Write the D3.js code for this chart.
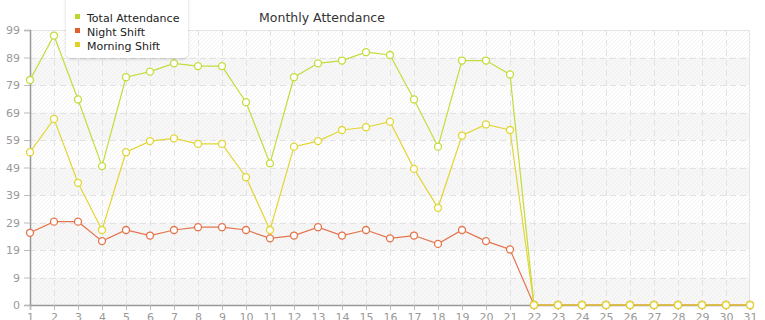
<!DOCTYPE html>
<html>
<head>
<meta charset="utf-8">
<script src="https://cdn.jsdelivr.net/npm/d3@7"></script>
<style>
  body { margin: 0; background: #fff; }
  svg { font-family: "DejaVu Sans", Verdana, sans-serif; }
</style>
</head>
<body>
<svg width="765" height="320"></svg>
<script>
// chart data
var days = d3.range(1, 32);
var totalAttendance = [81, 97, 74, 50, 82, 84, 87, 86, 86, 73, 51, 82, 87, 88, 91, 90, 74, 57, 88, 88, 83, 0, 0, 0, 0, 0, 0, 0, 0, 0, 0];
var nightShift      = [26, 30, 30, 23, 27, 25, 27, 28, 28, 27, 24, 25, 28, 25, 27, 24, 25, 22, 27, 23, 20, 0, 0, 0, 0, 0, 0, 0, 0, 0, 0];
var morningShift    = [55, 67, 44, 27, 55, 59, 60, 58, 58, 46, 27, 57, 59, 63, 64, 66, 49, 35, 61, 65, 63, 0, 0, 0, 0, 0, 0, 0, 0, 0, 0];
var seriesNames = ["Total Attendance", "Night Shift", "Morning Shift"];
var yMax = 99;

var colors = {
  "Total Attendance": "#c4dc3c",
  "Night Shift": "#e4744c",
  "Morning Shift": "#e2d634"
};
var legendColors = {
  "Total Attendance": "#b8d82c",
  "Night Shift": "#e0602c",
  "Morning Shift": "#e0d02c"
};

var svg = d3.select("svg"),
    margin = {top: 30, right: 15, bottom: 15, left: 30},
    width = +svg.attr("width") - margin.left - margin.right,
    height = +svg.attr("height") - margin.top - margin.bottom;

var x = d3.scaleLinear().domain([1, 31]).range([0, width]);
var y = d3.scaleLinear().domain([0, yMax]).range([height, 0]);

var yTicks = d3.range(0, 11).map(function(i) { return i * yMax / 10; });

// hatch pattern
var defs = svg.append("defs");
var pat = defs.append("pattern")
    .attr("id", "hatch")
    .attr("patternUnits", "userSpaceOnUse")
    .attr("width", 4).attr("height", 4);
pat.append("path")
    .attr("d", "M-1,1 l2,-2 M0,4 l4,-4 M3,5 l2,-2")
    .attr("stroke", "#efefef")
    .attr("stroke-width", 0.8);

var g = svg.append("g").attr("transform", "translate(" + margin.left + "," + margin.top + ")");

g.append("rect")
    .attr("width", width).attr("height", height)
    .attr("fill", "#fff");

// alternating bands
g.selectAll(".band")
  .data(yTicks.slice(0, 10).filter(function(d, i) { return i % 2 === 0; }))
  .enter().append("rect")
    .attr("class", "band")
    .attr("x", 0)
    .attr("width", width)
    .attr("y", function(d) { return y(d + yMax / 10); })
    .attr("height", function(d) { return y(d) - y(d + yMax / 10); })
    .attr("fill", "#f7f7f7");

g.append("rect")
    .attr("width", width).attr("height", height)
    .attr("fill", "url(#hatch)");

// grid
g.append("g")
  .selectAll("line")
  .data(yTicks.slice(1, 10))
  .enter().append("line")
    .attr("x1", 0).attr("x2", width)
    .attr("y1", function(d) { return Math.round(y(d)) + 0.5; })
    .attr("y2", function(d) { return Math.round(y(d)) + 0.5; })
    .attr("stroke", "#e2e2e2")
    .attr("stroke-dasharray", "6,4");

g.append("g")
  .selectAll("line")
  .data(days.slice(1, 30))
  .enter().append("line")
    .attr("x1", function(d) { return Math.round(x(d)) + 0.5; })
    .attr("x2", function(d) { return Math.round(x(d)) + 0.5; })
    .attr("y1", 0).attr("y2", height)
    .attr("stroke", "#e2e2e2")
    .attr("stroke-dasharray", "6,4");

// top/right border
g.append("path")
    .attr("d", "M0,0.5H" + (width - 0.5) + "V" + height)
    .attr("fill", "none")
    .attr("stroke", "#e4e4e4");

// axes
var yAxis = g.append("g")
    .call(d3.axisLeft(y).tickValues(yTicks).tickSize(6).tickPadding(4)
      .tickFormat(function(d) { return Math.floor(d + 1e-9); }));
var xAxis = g.append("g")
    .attr("transform", "translate(0," + height + ")")
    .call(d3.axisBottom(x).tickValues(days).tickSize(5).tickPadding(3)
      .tickFormat(d3.format("d")));

[yAxis, xAxis].forEach(function(a) {
  a.select(".domain").attr("stroke", "#999").attr("stroke-width", 1.5);
  a.selectAll(".tick line").attr("stroke", "#bbb");
  a.selectAll(".tick text").attr("fill", "#999").style("font-size", "11px")
    .style("font-family", "'DejaVu Sans', Verdana, sans-serif");
});

// series
var seriesData = [totalAttendance, nightShift, morningShift];

var line = d3.line()
    .x(function(d, i) { return x(days[i]); })
    .y(function(d) { return y(d); });

seriesData.forEach(function(vals, k) {
  var name = seriesNames[k];
  var s = g.append("g");
  s.append("path")
      .datum(vals)
      .attr("d", line)
      .attr("fill", "none")
      .attr("stroke", colors[name])
      .attr("stroke-width", 1.2);
  s.selectAll("circle")
    .data(vals)
    .enter().append("circle")
      .attr("cx", function(d, i) { return x(days[i]); })
      .attr("cy", function(d) { return y(d); })
      .attr("r", 3.5)
      .attr("fill", "#fff")
      .attr("stroke", colors[name])
      .attr("stroke-width", 1.3);
});

// title
svg.append("text")
    .attr("x", 322)
    .attr("y", 22)
    .attr("text-anchor", "middle")
    .attr("fill", "#333")
    .style("font-size", "12.5px")
    .text("Monthly Attendance");

// legend
var shadow = defs.append("filter").attr("id", "shadow")
    .attr("x", "-20%").attr("y", "-20%").attr("width", "140%").attr("height", "140%");
shadow.append("feDropShadow")
    .attr("dx", 0).attr("dy", 1).attr("stdDeviation", 1.5)
    .attr("flood-color", "#000").attr("flood-opacity", 0.18);

var legend = svg.append("g").attr("transform", "translate(66,0)");
legend.append("rect")
    .attr("x", 0).attr("y", -8)
    .attr("width", 122).attr("height", 66)
    .attr("rx", 5)
    .attr("fill", "#fff")
    .attr("filter", "url(#shadow)");

var items = legend.selectAll(".item")
  .data(seriesNames)
  .enter().append("g")
    .attr("transform", function(d, i) { return "translate(0," + (18 + i * 14) + ")"; });
items.append("rect")
    .attr("x", 9).attr("y", -4)
    .attr("width", 5).attr("height", 5)
    .attr("fill", function(d) { return legendColors[d]; });
items.append("text")
    .attr("x", 21).attr("y", 4)
    .attr("fill", "#222")
    .style("font-size", "11px")
    .text(function(d) { return d; });
</script>
</body>
</html>
